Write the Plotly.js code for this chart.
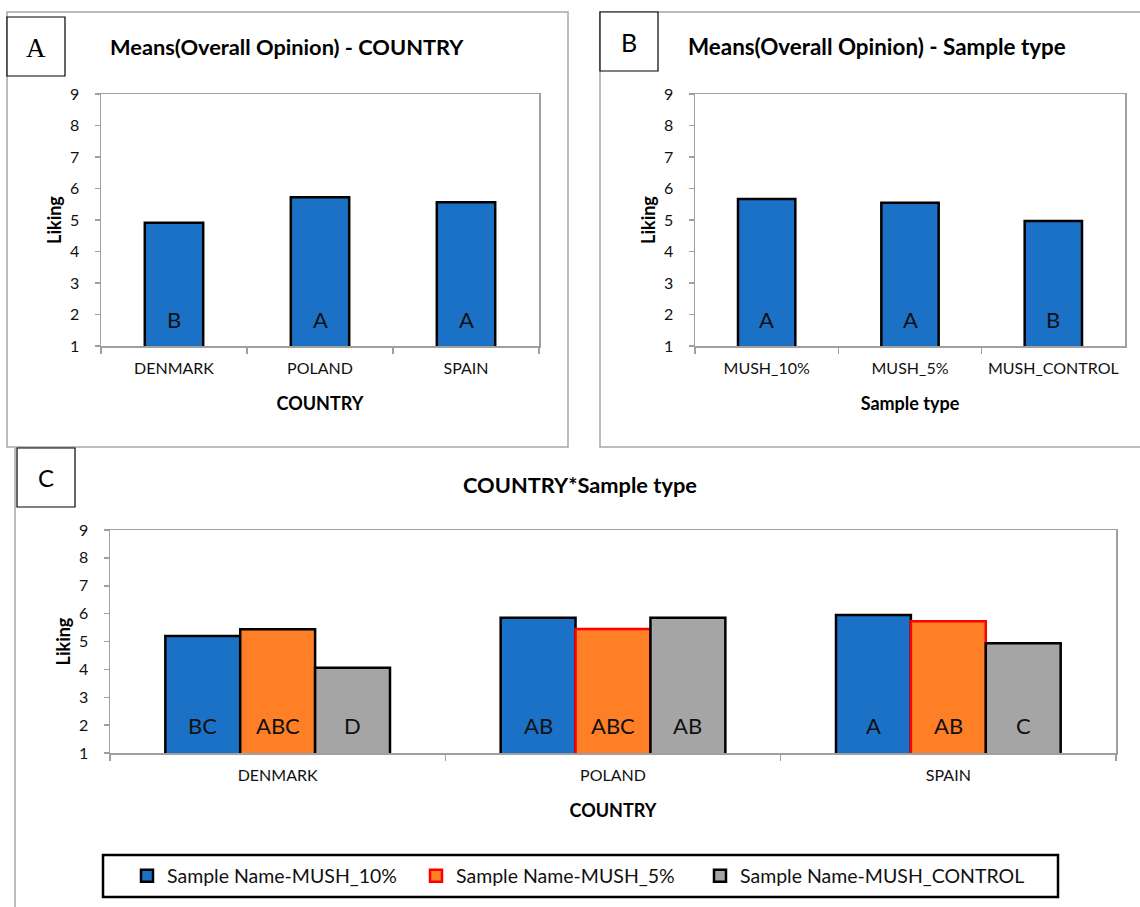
<!DOCTYPE html>
<html>
<head>
<meta charset="utf-8">
<script src="https://cdn.plot.ly/plotly-3.0.1.min.js"></script>
<style>html,body{margin:0;padding:0;background:#fff;}#chart{width:1140px;height:907px;}</style>
</head>
<body>
<div id="chart"></div>
<script>
// ---- Data ----
const countries = ['DENMARK', 'POLAND', 'SPAIN'];
const countryMeans = [4.91, 5.72, 5.56];
const countryLetters = ['B', 'A', 'A'];

const sampleTypes = ['MUSH_10%', 'MUSH_5%', 'MUSH_CONTROL'];
const sampleMeans = [5.67, 5.55, 4.97];
const sampleLetters = ['A', 'A', 'B'];

const seriesNames = ['Sample Name-MUSH_10%', 'Sample Name-MUSH_5%', 'Sample Name-MUSH_CONTROL'];
const mush10 = [5.20, 5.85, 5.95];
const mush5 = [5.44, 5.45, 5.73];
const mushControl = [4.06, 5.85, 4.94];
const mush10Letters = ['BC', 'AB', 'A'];
const mush5Letters = ['ABC', 'ABC', 'AB'];
const controlLetters = ['D', 'AB', 'C'];

const titleA = 'Means(Overall Opinion) - COUNTRY';
const titleB = 'Means(Overall Opinion) - Sample type';
const titleC = 'COUNTRY*Sample type';
const yTitle = 'Liking';
const xTitleA = 'COUNTRY';
const xTitleB = 'Sample type';

// ---- Styles ----
const W = 1140, H = 907;
const px = x => x / W;
const py = y => 1 - y / H;
const FONT = 'Lato, "Open Sans", sans-serif';
const BLUE = '#1A71C6', ORANGE = '#FF7F27', GRAY = '#A5A5A5';
const AXC = '#A0A0A0';
const orangeEdges = ['#000000', '#FF0000', '#FF0000'];

function xAxis(domain, anchor, title) {
  return {
    domain: domain, anchor: anchor, type: 'category', tickson: 'boundaries',
    ticks: 'outside', ticklen: 6, tickcolor: AXC, tickwidth: 1.5,
    showline: true, linecolor: AXC, linewidth: 1.5, mirror: true,
    showgrid: false, zeroline: false, automargin: false, fixedrange: true,
    tickfont: {family: FONT, size: 16, color: '#111'}, ticklabelstandoff: 7,
    title: {text: '<b>' + title + '</b>', font: {family: FONT, size: 18, color: '#000'}, standoff: 21}
  };
}
function yAxis(domain, anchor) {
  return {
    domain: domain, anchor: anchor, range: [1, 9], dtick: 1, tick0: 1,
    ticks: 'outside', ticklen: 5, tickcolor: AXC, tickwidth: 1.5,
    showline: true, linecolor: AXC, linewidth: 1.5, mirror: true,
    showgrid: false, zeroline: false, automargin: false, fixedrange: true,
    tickfont: {family: FONT, size: 16, color: '#111'}, ticklabelstandoff: 12,
    title: {text: '<b>' + yTitle + '</b>', font: {family: FONT, size: 18, color: '#000'}, standoff: 3}
  };
}

const barLine = {color: '#000', width: 2.5};

const traces = [
  {type: 'bar', x: countries, y: countryMeans, xaxis: 'x', yaxis: 'y', width: 0.4,
   marker: {color: BLUE, line: barLine}, showlegend: false, hoverinfo: 'x+y'},
  {type: 'bar', x: sampleTypes, y: sampleMeans, xaxis: 'x2', yaxis: 'y2', width: 0.4,
   marker: {color: BLUE, line: barLine}, showlegend: false, hoverinfo: 'x+y'},
  {type: 'bar', name: seriesNames[0], x: countries, y: mush10, xaxis: 'x3', yaxis: 'y3',
   marker: {color: BLUE, line: barLine}, legend: 'legend'},
  {type: 'bar', name: seriesNames[1], x: countries, y: mush5, xaxis: 'x3', yaxis: 'y3',
   marker: {color: ORANGE, line: {color: orangeEdges, width: 2.5}}, showlegend: false},
  {type: 'bar', name: seriesNames[2], x: countries, y: mushControl, xaxis: 'x3', yaxis: 'y3',
   marker: {color: GRAY, line: barLine}, legend: 'legend3'},
  // legend key for the 5% series (red outline as in the original key)
  {type: 'bar', name: seriesNames[1], x: [countries[0]], y: [null], xaxis: 'x4', yaxis: 'y4',
   marker: {color: ORANGE, line: {color: '#FF0000', width: 2.5}}, legend: 'legend2', hoverinfo: 'skip'}
];

// letter annotations inside bars
const annotations = [];
const letterFont = {family: FONT, size: 22, color: '#111'};
const LETTER_Y_AB = 1.85, LETTER_Y_C = 2.0;
countries.forEach((c, i) => annotations.push({xref: 'x', yref: 'y', x: c, y: LETTER_Y_AB, text: countryLetters[i], showarrow: false, font: letterFont}));
sampleTypes.forEach((c, i) => annotations.push({xref: 'x2', yref: 'y2', x: c, y: LETTER_Y_AB, text: sampleLetters[i], showarrow: false, font: letterFont}));
const groupPx = (1116 - 110) / 3 * 0.67 / 3;
[mush10Letters, mush5Letters, controlLetters].forEach((arr, j) => {
  countries.forEach((c, i) => annotations.push({xref: 'x3', yref: 'y3', x: c, y: LETTER_Y_C, xshift: (j - 1) * groupPx,
    text: arr[i], showarrow: false, font: letterFont}));
});

// panel titles and panel letters
function paperText(x, y, text, font) {
  return {xref: 'paper', yref: 'paper', x: px(x), y: py(y), xanchor: 'center', yanchor: 'middle',
          text: text, showarrow: false, font: font};
}
annotations.push(paperText(287, 47, '<b>' + titleA + '</b>', {family: FONT, size: 21.8, color: '#000'}));
annotations.push(paperText(877, 47, '<b>' + titleB + '</b>', {family: FONT, size: 22.4, color: '#000'}));
annotations.push(paperText(580, 484, '<b>' + titleC + '</b>', {family: FONT, size: 21.8, color: '#000'}));
annotations.push(paperText(36, 48, 'A', {family: '"Liberation Serif", serif', size: 27, color: '#000'}));
annotations.push(paperText(629, 42, 'B', {family: FONT, size: 25, color: '#000'}));
annotations.push(paperText(46, 477, 'C', {family: FONT, size: 24, color: '#000'}));

const frame = '#A6A6A6';
const shapes = [
  {type: 'rect', xref: 'paper', yref: 'paper', x0: px(7), x1: px(568), y0: py(447), y1: py(12), line: {color: frame, width: 1.5}},
  {type: 'rect', xref: 'paper', yref: 'paper', x0: px(600), x1: px(1170), y0: py(447), y1: py(12), line: {color: frame, width: 1.5}},
  {type: 'line', xref: 'paper', yref: 'paper', x0: px(15), x1: px(15), y0: py(448), y1: py(910), line: {color: frame, width: 1.5}},
  {type: 'rect', xref: 'paper', yref: 'paper', x0: px(7), x1: px(65), y0: py(76), y1: py(17), line: {color: '#000', width: 1.2}, fillcolor: '#fff'},
  {type: 'rect', xref: 'paper', yref: 'paper', x0: px(600), x1: px(658), y0: py(71), y1: py(12), line: {color: '#000', width: 1.2}, fillcolor: '#fff'},
  {type: 'rect', xref: 'paper', yref: 'paper', x0: px(17), x1: px(75), y0: py(507), y1: py(448), line: {color: '#000', width: 1.2}, fillcolor: '#fff'},
  {type: 'rect', xref: 'paper', yref: 'paper', x0: px(103), x1: px(1058), y0: py(897), y1: py(855), line: {color: '#000', width: 2.5}}
];

function legendAt(xpix) {
  return {orientation: 'h', x: px(xpix), xanchor: 'left', y: py(876), yanchor: 'middle',
          bgcolor: 'rgba(0,0,0,0)', borderwidth: 0, font: {family: FONT, size: 19.5, color: '#111'}};
}

const layout = {
  width: W, height: H, margin: {l: 0, r: 0, t: 0, b: 0},
  paper_bgcolor: '#fff', plot_bgcolor: '#fff',
  barmode: 'group', bargap: 0.33, bargroupgap: 0,
  xaxis: xAxis([px(101), px(539)], 'y', xTitleA),
  yaxis: yAxis([py(346), py(94)], 'x'),
  xaxis2: xAxis([px(695), px(1125)], 'y2', xTitleB),
  yaxis2: yAxis([py(346), py(94)], 'x2'),
  xaxis3: xAxis([px(110), px(1116)], 'y3', xTitleA),
  yaxis3: yAxis([py(753), py(530)], 'x3'),
  xaxis4: {domain: [0, 0.005], anchor: 'y4', visible: false, fixedrange: true},
  yaxis4: {domain: [0, 0.005], anchor: 'x4', visible: false, range: [0, 1], fixedrange: true},
  legend: legendAt(127),
  legend2: legendAt(416),
  legend3: legendAt(700),
  annotations: annotations,
  shapes: shapes,
  showlegend: true
};

Plotly.newPlot('chart', traces, layout, {displayModeBar: false, staticPlot: true});
</script>
</body>
</html>
